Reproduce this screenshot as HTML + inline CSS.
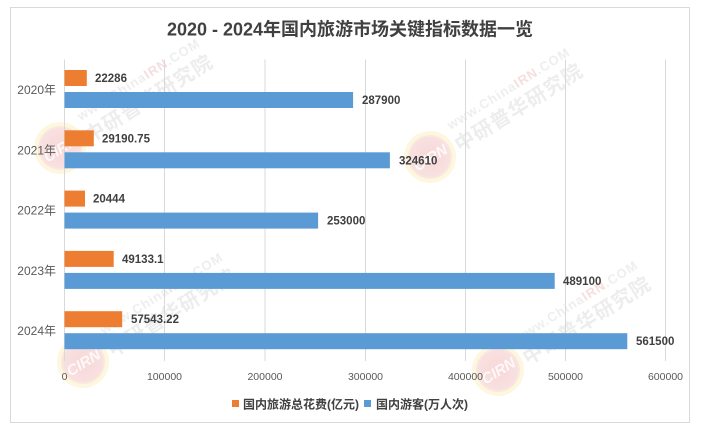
<!DOCTYPE html>
<html><head><meta charset="utf-8"><style>
html,body{margin:0;padding:0;background:#fff;}
svg{display:block;}
</style></head><body>
<svg width="701" height="430" viewBox="0 0 701 430" xmlns="http://www.w3.org/2000/svg">
<defs>
<radialGradient id="lg" cx="50%" cy="50%" r="50%">
<stop offset="0%" stop-color="#f7d8d8"/>
<stop offset="80%" stop-color="#f9e0e0"/>
<stop offset="100%" stop-color="#fcf3dc"/>
</radialGradient>
<g id="wm">
<circle cx="0" cy="0" r="24" fill="url(#lg)" stroke="#fdf7e0" stroke-width="4"/>
<text x="0" y="6" text-anchor="middle" font-family="Liberation Sans, sans-serif" font-weight="bold" font-style="italic" font-size="15" fill="#ffffff" fill-opacity="0.8">CIRN</text>
<text x="28" y="12" font-family="Liberation Sans, 'Noto Sans CJK SC', sans-serif" font-weight="bold" font-size="20" fill="#ededed" letter-spacing="1">中研普华研究院</text>
<text x="32" y="-12" font-family="Liberation Sans, sans-serif" font-weight="bold" font-size="13" fill="#eeeeee" letter-spacing="1">www.China<tspan fill="#f7dede">IRN</tspan>.COM</text>
</g>
</defs>
<rect x="10.5" y="7.5" width="679" height="415" fill="#fff" stroke="#d9d9d9" stroke-width="1"/>

<!-- watermarks -->
<use href="#wm" transform="translate(60,148) rotate(-32)"/>
<use href="#wm" transform="translate(430,157) rotate(-32)"/>
<use href="#wm" transform="translate(83,362) rotate(-32)"/>
<use href="#wm" transform="translate(498,370) rotate(-32)"/>

<!-- title -->
<text x="350" y="35.5" text-anchor="middle" font-family="Liberation Sans, 'Noto Sans CJK SC', sans-serif" font-weight="bold" font-size="18" fill="#404040">2020 - 2024年国内旅游市场关键指标数据一览</text>

<!-- gridlines -->
<g stroke="#d9d9d9" stroke-width="1">
<line x1="64.5" y1="59.5" x2="64.5" y2="361"/>
<line x1="164.5" y1="59.5" x2="164.5" y2="361"/>
<line x1="265" y1="59.5" x2="265" y2="361"/>
<line x1="365.5" y1="59.5" x2="365.5" y2="361"/>
<line x1="465.5" y1="59.5" x2="465.5" y2="361"/>
<line x1="565.5" y1="59.5" x2="565.5" y2="361"/>
<line x1="665.5" y1="59.5" x2="665.5" y2="361"/>
</g>

<!-- bars -->
<g fill="#ed7d31">
<rect x="64.5" y="70" width="22.3" height="16"/>
<rect x="64.5" y="130.3" width="29.3" height="16"/>
<rect x="64.5" y="190.6" width="20.5" height="16"/>
<rect x="64.5" y="250.9" width="49.2" height="16"/>
<rect x="64.5" y="311.2" width="57.7" height="16"/>
</g>
<g fill="#5b9bd5">
<rect x="64.5" y="92" width="288.6" height="16"/>
<rect x="64.5" y="152.3" width="325.4" height="16"/>
<rect x="64.5" y="212.6" width="253.6" height="16"/>
<rect x="64.5" y="272.9" width="490.2" height="16"/>
<rect x="64.5" y="333.2" width="562.8" height="16"/>
</g>

<!-- value labels -->
<g font-family="Liberation Sans, sans-serif" font-weight="bold" font-size="11.5" fill="#404040">
<text x="95" y="82">22286</text>
<text x="362" y="104">287900</text>
<text x="102" y="142.3">29190.75</text>
<text x="399" y="164.3">324610</text>
<text x="93" y="202.6">20444</text>
<text x="327" y="224.6">253000</text>
<text x="122" y="262.9">49133.1</text>
<text x="563" y="284.9">489100</text>
<text x="131" y="323.2">57543.22</text>
<text x="636" y="345.2">561500</text>
</g>

<!-- category labels -->
<g font-family="Liberation Sans, 'Noto Sans CJK SC', sans-serif" font-size="12" fill="#595959" text-anchor="end">
<text x="56" y="94">2020年</text>
<text x="56" y="154.3">2021年</text>
<text x="56" y="214.6">2022年</text>
<text x="56" y="274.9">2023年</text>
<text x="56" y="335.2">2024年</text>
</g>

<!-- x axis labels -->
<g font-family="Liberation Sans, sans-serif" font-size="10.5" fill="#595959" text-anchor="middle">
<text x="64.5" y="380">0</text>
<text x="164.5" y="380">100000</text>
<text x="265" y="380">200000</text>
<text x="365.5" y="380">300000</text>
<text x="465.5" y="380">400000</text>
<text x="565.5" y="380">500000</text>
<text x="665.5" y="380">600000</text>
</g>

<!-- legend -->
<rect x="232" y="400" width="7" height="7" fill="#ed7d31"/>
<text x="243" y="408.5" font-family="Liberation Sans, 'Noto Sans CJK SC', sans-serif" font-weight="bold" font-size="12" fill="#404040">国内旅游总花费(亿元)</text>
<rect x="364" y="400" width="7" height="7" fill="#5b9bd5"/>
<text x="376" y="408.5" font-family="Liberation Sans, 'Noto Sans CJK SC', sans-serif" font-weight="bold" font-size="12" fill="#404040">国内游客(万人次)</text>
</svg>
</body></html>
